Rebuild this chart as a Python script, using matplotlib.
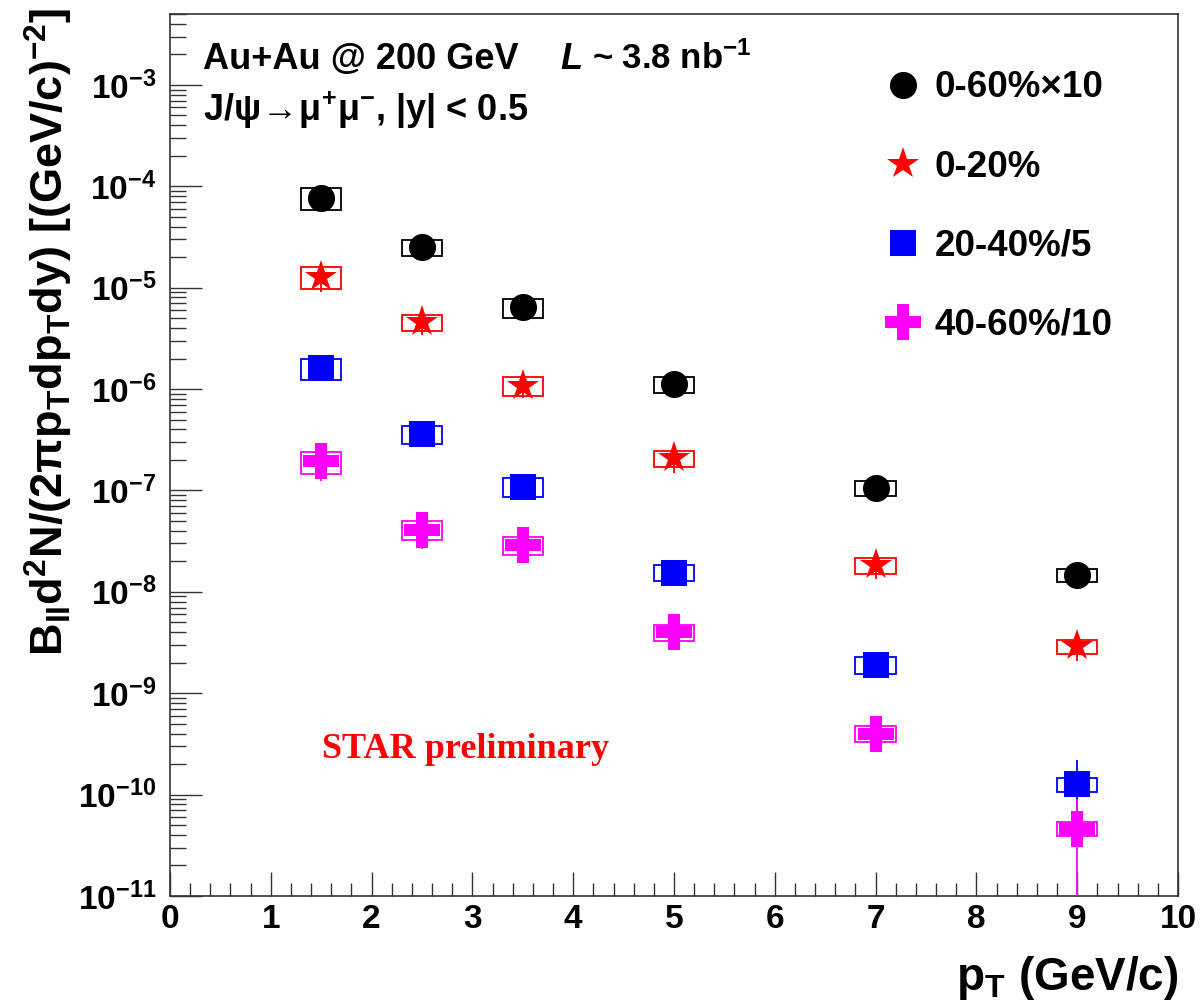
import matplotlib
matplotlib.use("Agg")
import matplotlib.pyplot as plt
import numpy as np
from matplotlib.lines import Line2D
from matplotlib.ticker import LogLocator, MultipleLocator, NullFormatter

plt.rcParams["font.family"] = ["Liberation Sans", "DejaVu Sans"]
plt.rcParams["font.weight"] = "bold"
plt.rcParams["axes.labelweight"] = "bold"
plt.rcParams["mathtext.default"] = "regular"

# J/psi invariant yields vs pT, one array per centrality class (already scaled)
pt_bins = [1.5, 2.5, 3.5, 5.0, 7.0, 9.0]

yield_0_60 = [7.7e-5, 2.5e-5, 6.4e-6, 1.12e-6, 1.06e-7, 1.47e-8]    # x10
yield_0_20 = [1.28e-5, 4.6e-6, 1.08e-6, 2.08e-7, 1.82e-8, 2.9e-9]
yield_20_40 = [1.61e-6, 3.6e-7, 1.09e-7, 1.55e-8, 1.9e-9, 1.27e-10]  # /5
yield_40_60 = [1.93e-7, 4.1e-8, 2.9e-8, 4.0e-9, 4.0e-10, 4.6e-11]   # /10

# relative statistical errors
stat_0_60 = [0.08, 0.08, 0.10, 0.10, 0.12, 0.15]
stat_0_20 = [0.30, 0.25, 0.25, 0.29, 0.27, 0.29]
stat_20_40 = [0.12, 0.12, 0.15, 0.20, 0.25, 0.73]
stat_40_60 = [0.36, 0.35, 0.32, 0.30, 0.30, 0.97]

# relative systematic errors (drawn as boxes)
sys_0_60 = [0.24, 0.18, 0.21, 0.18, 0.17, 0.155]
sys_0_20 = [0.24, 0.18, 0.21, 0.18, 0.18, 0.155]
sys_20_40 = [0.24, 0.20, 0.21, 0.18, 0.19, 0.16]
sys_40_60 = [0.24, 0.205, 0.21, 0.18, 0.18, 0.16]

labels = ["0-60%×10", "0-20%", "20-40%/5", "40-60%/10"]

series = [
    (yield_0_60, stat_0_60, sys_0_60, "black", "o", 19.5),
    (yield_0_20, stat_0_20, sys_0_20, "#ff0000", "*", 24),
    (yield_20_40, stat_20_40, sys_20_40, "#0000ff", "s", 19),
    (yield_40_60, stat_40_60, sys_40_60, "#ff00ff", "P", 26),
]

fig = plt.figure(figsize=(12.01, 10.08), dpi=100)
ax = fig.add_axes([0.1415, 0.1111, 0.8394, 0.8750])

handles = []
for vals, stat, syst, color, marker, ms in series:
    vals = np.array(vals)
    stat = np.array(stat) * vals
    syst = np.array(syst) * vals
    # systematic boxes
    ax.bar(pt_bins, 2 * syst, bottom=vals - syst, width=0.4, fill=False,
           edgecolor=color, linewidth=1.3, zorder=2)
    # points with statistical errors
    ax.errorbar(pt_bins, vals, yerr=stat, fmt=marker, color=color, ms=ms,
                mec=color, mew=0, elinewidth=1.3, capsize=0, zorder=3)
    handles.append(Line2D([], [], linestyle="none", marker=marker, color=color,
                          ms=ms, mew=0))

ax.set_yscale("log")
ax.set_xlim(0, 10)
ax.set_ylim(1e-11, 5e-3)

ax.xaxis.set_major_locator(MultipleLocator(1))
ax.xaxis.set_minor_locator(MultipleLocator(0.2))
ax.yaxis.set_major_locator(LogLocator(base=10, numticks=20))
ax.yaxis.set_minor_locator(LogLocator(base=10, subs=np.arange(2, 10), numticks=100))
ax.yaxis.set_minor_formatter(NullFormatter())

ax.tick_params(axis="both", which="both", direction="in", top=False, right=False,
               width=1.0, color="#333333")
ax.tick_params(axis="x", which="major", length=17, pad=6, labelsize=24)
ax.tick_params(axis="x", which="minor", length=9.5)
ax.tick_params(axis="y", which="major", length=23, pad=10, labelsize=24)
ax.tick_params(axis="y", which="minor", length=11.5)
for spine in ax.spines.values():
    spine.set_linewidth(1.2)
    spine.set_color("#333333")

ax.set_xlabel("p$_{T}$ (GeV/c)", fontsize=33, ha="right", va="baseline")
ax.xaxis.set_label_coords(1.0, -0.1066)
ax.set_ylabel("B$_{ll}$d$^{2}$N/(2πp$_{T}$dp$_{T}$dy) [(GeV/c)$^{-2}$]",
              fontsize=32.5, ha="right", va="baseline")
ax.yaxis.set_label_coords(-0.105, 1.007)

ax.text(0.0327, 0.9376, "Au+Au @ 200 GeV", transform=ax.transAxes,
        fontsize=26, va="baseline")
ax.text(0.387, 0.9376, "L", transform=ax.transAxes, fontsize=26,
        style="italic", va="baseline")
ax.text(0.419, 0.9376, "~ 3.8 nb$^{-1}$", transform=ax.transAxes,
        fontsize=25, va="baseline")
ax.text(0.0327, 0.8787, r"J/ψ$\!\rightarrow\!$μ$^{+}$μ$^{-}$, |y| < 0.5",
        transform=ax.transAxes, fontsize=26, va="baseline")
ax.text(0.151, 0.1565, "STAR preliminary", transform=ax.transAxes, fontsize=26,
        color="#ff0000", family="Liberation Serif", va="baseline")

ax.legend(handles, labels, loc="upper left", bbox_to_anchor=(0.709, 0.936),
          frameon=False, fontsize=26.5, handlelength=1.0, handletextpad=0.35,
          labelspacing=1.2, borderpad=0, borderaxespad=0)

fig.savefig("out.png", dpi=100)
